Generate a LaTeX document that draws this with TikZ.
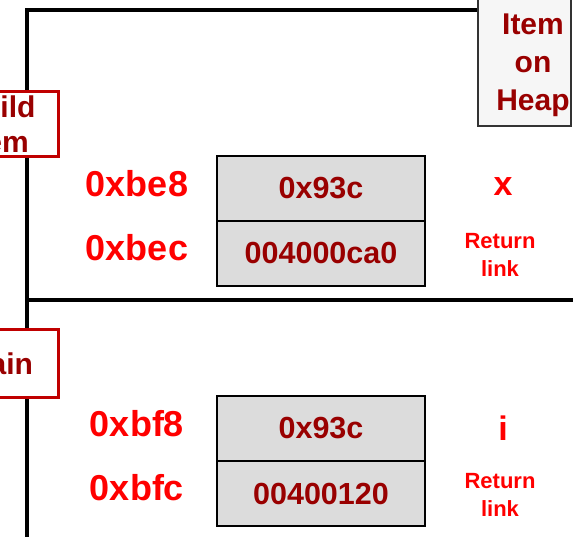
\documentclass[tikz,border=0pt]{standalone}
\usepackage{fontspec}
\setmainfont{Liberation Sans}
\definecolor{darkred}{HTML}{990000}
\definecolor{brightred}{HTML}{FF0000}
\definecolor{boxred}{HTML}{C00000}
\definecolor{cellgray}{HTML}{DCDCDC}
\definecolor{heapgray}{HTML}{F6F6F6}
\begin{document}
\begin{tikzpicture}[x=1pt,y=-1pt,
  frameline/.style={line width=3.6pt, line cap=rect},
  cell/.style={draw=black, line width=2.3pt, fill=cellgray, minimum width=208pt,
    minimum height=65pt, inner sep=0pt, text=darkred,
    font=\fontsize{30.5}{30}\selectfont\bfseries},
  addr/.style={text=brightred, inner sep=0pt, font=\fontsize{36}{36}\selectfont\bfseries},
  varname/.style={text=brightred, inner sep=0pt, font=\fontsize{34}{34}\selectfont\bfseries},
  retlink/.style={text=brightred, inner sep=0pt, align=center,
    font=\fontsize{22}{28}\selectfont\bfseries},
  fnbox/.style={draw=boxred, line width=3pt, fill=white},
  fntext/.style={text=darkred, inner sep=0pt, align=center,
    font=\fontsize{30}{35}\selectfont\bfseries},
  heaptext/.style={text=darkred, inner sep=0pt, align=center,
    font=\fontsize{30}{38}\selectfont\bfseries}]
\useasboundingbox (0,0) rectangle (573,537);
\clip (0,0) rectangle (573,537);

% stack frame outlines
\draw[frameline] (27,545) -- (27,10) -- (480,10);
\draw[frameline] (27,300) -- (580,300);

% item on the heap
\draw[fill=heapgray, draw=black!80, line width=1.5pt] (478,-5) rectangle (571,126);
\node[heaptext] (heap) at (533,65) {Item\\on\\Heap};

% function labels
\draw[fnbox] (-60,92) rectangle (58,157);
\node[fntext] (fbuild) at (-2,124) {Build\\Item};
\draw[fnbox] (-60,330) rectangle (58,397);
\node[fntext] (fmain) at (-2,364) {main};

% Build Item frame
\node[cell] (c1) at (321,188.5) {0x93c};
\node[cell] (c2) at (321,253.5) {004000ca0};
\node[addr] (a1) at (137,184) {0xbe8};
\node[addr] (a2) at (137,248) {0xbec};
\node[varname] (v1) at (503,187) {x};
\node[retlink] (r1) at (500,255) {Return\\link};

% main frame
\node[cell] (c3) at (321,428.5) {0x93c};
\node[cell] (c4) at (321,493.5) {00400120};
\node[addr] (a3) at (137,424) {0xbf8};
\node[addr] (a4) at (137,488) {0xbfc};
\node[varname] (v2) at (503,428) {i};
\node[retlink] (r2) at (500,495) {Return\\link};
\end{tikzpicture}
\end{document}
